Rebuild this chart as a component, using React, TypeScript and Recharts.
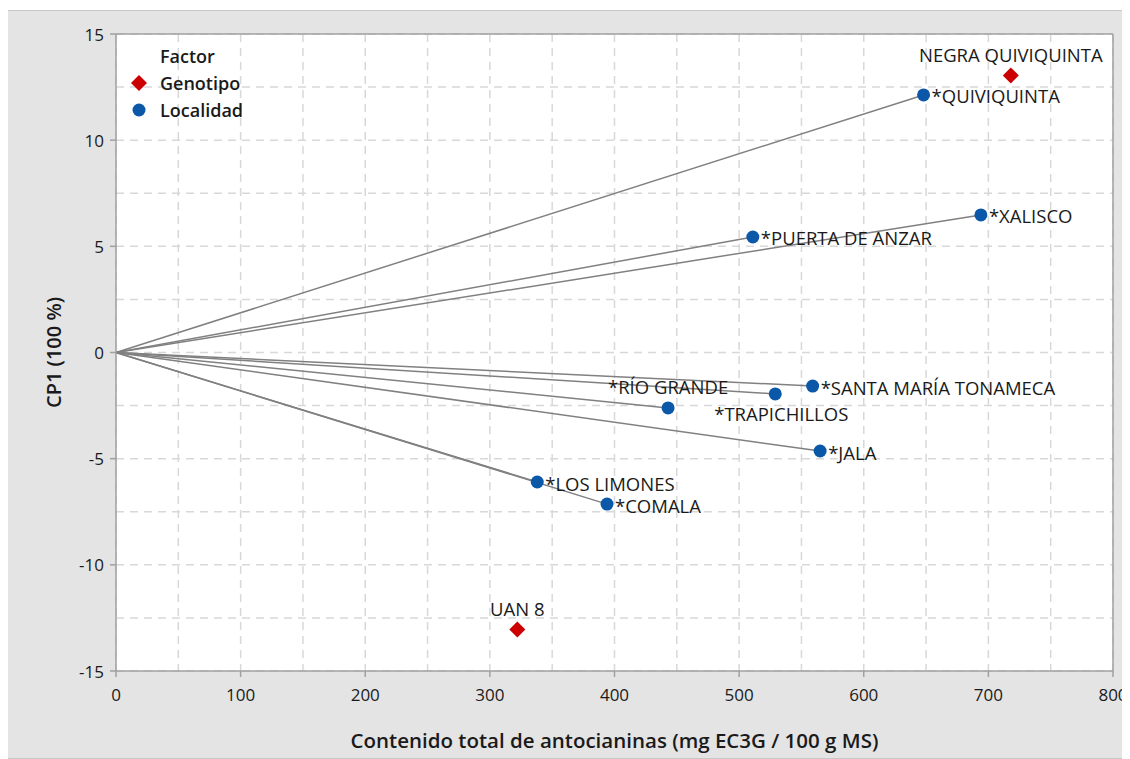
import React from 'react';
import {
  ScatterChart,
  Scatter,
  XAxis,
  YAxis,
  CartesianGrid,
  ReferenceLine,
  Legend,
} from 'recharts';

// Genotipos (rombos rojos)
const genotipoNames = ['NEGRA QUIVIQUINTA', 'UAN 8'];
const genotipoX = [718, 322];
const genotipoY = [13.05, -13.05];

// Localidades (círculos azules), cada una unida al origen
const localidadNames = [
  '*QUIVIQUINTA',
  '*XALISCO',
  '*PUERTA DE ANZAR',
  '*SANTA MARÍA TONAMECA',
  '*TRAPICHILLOS',
  '*RÍO GRANDE',
  '*JALA',
  '*LOS LIMONES',
  '*COMALA',
];
const localidadX = [648, 694, 511, 559, 529, 443, 565, 338, 394];
const localidadY = [12.13, 6.48, 5.44, -1.58, -1.95, -2.61, -4.64, -6.1, -7.14];

const xTicks = [0, 50, 100, 150, 200, 250, 300, 350, 400, 450, 500, 550, 600, 650, 700, 750, 800];
const yTicks = [-15, -12.5, -10, -7.5, -5, -2.5, 0, 2.5, 5, 7.5, 10, 12.5, 15];

const xTitle = 'Contenido total de antocianinas (mg EC3G / 100 g MS)';
const yTitle = 'CP1 (100 %)';

// donde va cada etiqueta respecto al punto
const labelPlacement: Record<string, 'right' | 'top' | 'bottom'> = {
  'NEGRA QUIVIQUINTA': 'top',
  'UAN 8': 'top',
  '*RÍO GRANDE': 'top',
  '*TRAPICHILLOS': 'bottom',
};

const genotipoData = genotipoNames.map((name, i) => ({ name, x: genotipoX[i], y: genotipoY[i] }));
const localidadData = localidadNames.map((name, i) => ({ name, x: localidadX[i], y: localidadY[i] }));

const FONT = '"Open Sans", "Noto Sans", sans-serif';
const AXIS_COLOR = '#a0a0a0';
const TEXT_COLOR = '#1a1a1a';
const RED = '#cc0000';
const BLUE = '#0b57a8';

const PointLabel = ({ cx, cy, name }: { cx: number; cy: number; name: string }) => {
  const place = labelPlacement[name] || 'right';
  const common = { fontFamily: FONT, fontSize: 18.5, fill: TEXT_COLOR };
  if (place === 'top') {
    return (
      <text x={cx} y={cy - 21} textAnchor="middle" dominantBaseline="central" {...common}>
        {name}
      </text>
    );
  }
  if (place === 'bottom') {
    return (
      <text x={cx + 6} y={cy + 20} textAnchor="middle" dominantBaseline="central" {...common}>
        {name}
      </text>
    );
  }
  return (
    <text x={cx + 8} y={cy + 1} textAnchor="start" dominantBaseline="central" {...common}>
      {name}
    </text>
  );
};

const DiamondShape = (props: any) => {
  const { cx, cy, payload } = props;
  const r = 8;
  return (
    <g>
      <path d={`M${cx},${cy - r}L${cx + r},${cy}L${cx},${cy + r}L${cx - r},${cy}Z`} fill={RED} />
      <PointLabel cx={cx} cy={cy} name={payload.name} />
    </g>
  );
};

const CircleShape = (props: any) => {
  const { cx, cy, payload } = props;
  return (
    <g>
      <circle cx={cx} cy={cy} r={6.5} fill={BLUE} />
      <PointLabel cx={cx} cy={cy} name={payload.name} />
    </g>
  );
};

const XTick = (props: any) => {
  const { x, y, payload } = props;
  const v = payload.value;
  if (v % 100 !== 0) return null;
  return (
    <g>
      <line x1={x} x2={x} y1={y} y2={y + 6} stroke={AXIS_COLOR} strokeWidth={1.5} />
      <text x={x} y={y + 23} textAnchor="middle" dominantBaseline="central" fontFamily={FONT} fontSize={17} fill={TEXT_COLOR}>
        {v}
      </text>
    </g>
  );
};

const YTick = (props: any) => {
  const { x, y, payload } = props;
  const v = payload.value;
  if (v % 5 !== 0) return null;
  return (
    <g>
      <line x1={x - 6} x2={x} y1={y} y2={y} stroke={AXIS_COLOR} strokeWidth={1.5} />
      <text x={x - 12} y={y} textAnchor="end" dominantBaseline="central" fontFamily={FONT} fontSize={17} fill={TEXT_COLOR}>
        {v}
      </text>
    </g>
  );
};

const LegendBox = () => {
  const row: React.CSSProperties = { display: 'flex', alignItems: 'center', height: 27 };
  const text: React.CSSProperties = { fontFamily: FONT, fontSize: 18, fontWeight: 600, color: TEXT_COLOR };
  return (
    <div>
      <div style={row}>
        <span style={{ width: 32 }} />
        <span style={text}>Factor</span>
      </div>
      <div style={row}>
        <svg width={32} height={20}>
          <path d="M11,2L19,10L11,18L3,10Z" fill={RED} />
        </svg>
        <span style={text}>Genotipo</span>
      </div>
      <div style={row}>
        <svg width={32} height={20}>
          <circle cx={11} cy={10} r={6.5} fill={BLUE} />
        </svg>
        <span style={text}>Localidad</span>
      </div>
    </div>
  );
};

export default function App() {
  return (
    <div
      style={{
        width: 1120,
        height: 747,
        marginLeft: -1,
        marginTop: 2,
        background: '#e4e4e4',
        border: '1px solid #c8c8c8',
      }}
    >
      <ScatterChart width={1120} height={747} margin={{ top: 23, right: 15, left: 48, bottom: 10 }}>
        <CartesianGrid
          fill="#ffffff"
          stroke="#d8d8d8"
          strokeDasharray="8 6"
          strokeWidth={1.5}
        />
        <XAxis
          type="number"
          dataKey="x"
          domain={[0, 800]}
          ticks={xTicks}
          interval={0}
          allowDataOverflow
          tickLine={false}
          tickSize={0}
          tickMargin={0}
          tick={<XTick />}
          stroke={AXIS_COLOR}
          strokeWidth={1.5}
          height={77}
          label={{
            value: xTitle,
            position: 'insideBottom',
            offset: 0,
            style: { fontFamily: FONT, fontSize: 20.5, fontWeight: 600, fill: TEXT_COLOR },
          }}
        />
        <YAxis
          type="number"
          dataKey="y"
          domain={[-15, 15]}
          ticks={yTicks}
          interval={0}
          allowDataOverflow
          tickLine={false}
          tickSize={0}
          tickMargin={0}
          tick={<YTick />}
          stroke={AXIS_COLOR}
          strokeWidth={1.5}
          width={60}
          label={{
            value: yTitle,
            angle: -90,
            position: 'insideLeft',
            offset: -2,
            style: { fontFamily: FONT, fontSize: 20, fontWeight: 600, fill: TEXT_COLOR, textAnchor: 'middle' },
          }}
        />
        {/* borde superior y derecho del área */}
        <ReferenceLine y={15} stroke={AXIS_COLOR} strokeWidth={1.5} />
        <ReferenceLine x={800} stroke={AXIS_COLOR} strokeWidth={1.5} />
        {localidadData.map((p) => (
          <ReferenceLine
            key={p.name}
            segment={[
              { x: 0, y: 0 },
              { x: p.x, y: p.y },
            ]}
            stroke="#808080"
            strokeWidth={1.5}
          />
        ))}
        <Legend
          layout="vertical"
          align="center"
          verticalAlign="middle"
          wrapperStyle={{ left: 120, top: 31, width: 200 }}
          content={<LegendBox />}
        />
        <Scatter name="Genotipo" data={genotipoData} shape={<DiamondShape />} isAnimationActive={false} />
        <Scatter name="Localidad" data={localidadData} shape={<CircleShape />} isAnimationActive={false} />
      </ScatterChart>
    </div>
  );
}
